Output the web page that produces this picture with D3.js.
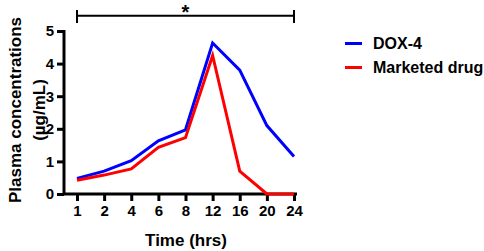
<!DOCTYPE html>
<html><head><meta charset="utf-8">
<script src="https://cdn.jsdelivr.net/npm/d3@7"></script>
<style>body{margin:0;background:#fff}svg{display:block}text{font-family:"Liberation Sans",Arial,sans-serif;font-weight:bold;fill:#000}</style>
</head><body><svg id="c" width="484" height="251"></svg>
<script>
const times = ["1","2","4","6","8","12","16","20","24"];
const dox4 = [0.48, 0.70, 1.02, 1.63, 1.97, 4.63, 3.80, 2.10, 1.15];
const marketed = [0.42, 0.58, 0.77, 1.43, 1.73, 4.25, 0.70, 0.0, 0.0];
const yTicks = [0,1,2,3,4,5];
const seriesNames = ["DOX-4","Marketed drug"];
const seriesColors = ["#0000ff","#ff0000"];

const svg = d3.select("#c");
const x = d3.scalePoint().domain(times).range([77, 294]);
const y = d3.scaleLinear().domain([0,5]).range([194, 31]);

const gx = svg.append("g").attr("transform","translate(0,194)")
  .call(d3.axisBottom(x).tickSize(7).tickPadding(4));
gx.select(".domain").attr("d","M64,0H297");
const gy = svg.append("g").attr("transform","translate(64,0)")
  .call(d3.axisLeft(y).tickValues(yTicks).tickFormat(d3.format("d")).tickSize(7).tickPadding(3));
gy.select(".domain").attr("d","M0,30V194");
svg.selectAll(".domain").attr("stroke","#000").attr("stroke-width",3);
svg.selectAll(".tick line").attr("stroke","#000").attr("stroke-width",3);
svg.selectAll(".tick text").style("font-size","15px").style("font-weight","bold")
  .style("font-family","'Liberation Sans',Arial,sans-serif").attr("fill","#000");

const line = d3.line().x((d,i)=>x(times[i])).y(d=>y(d));
[dox4, marketed].forEach((s,k)=>{
  svg.append("path").datum(s).attr("d",line).attr("fill","none")
    .attr("stroke",seriesColors[k]).attr("stroke-width",3).attr("stroke-linejoin","miter");
});

// significance bracket
const bx0 = x("1"), bx1 = x("24");
svg.append("path").attr("d",`M${bx0},15.7H${bx1}M${bx0},10V23M${bx1},10V23`)
  .attr("stroke","#000").attr("stroke-width",2).attr("fill","none");
svg.append("text").attr("x",(bx0+bx1)/2).attr("y",19).attr("text-anchor","middle")
  .style("font-size","20px").text("*");

// axis titles
svg.append("text").attr("x",186).attr("y",246).attr("text-anchor","middle")
  .style("font-size","17px").text("Time (hrs)");
const yt = svg.append("text").attr("transform","translate(0,110) rotate(-90)").attr("text-anchor","middle").style("font-size","17px");
yt.append("tspan").attr("x",0).attr("y",21).text("Plasma concentrations");
yt.append("tspan").attr("x",0).attr("y",45).text("(µg/mL)");

// legend
seriesNames.forEach((n,k)=>{
  const ly = 43.5 + k*24;
  svg.append("line").attr("x1",345).attr("x2",362).attr("y1",ly).attr("y2",ly)
    .attr("stroke",seriesColors[k]).attr("stroke-width",3);
  svg.append("text").attr("x",373).attr("y",ly+5.5).style("font-size","16px").text(n);
});
</script></body></html>
